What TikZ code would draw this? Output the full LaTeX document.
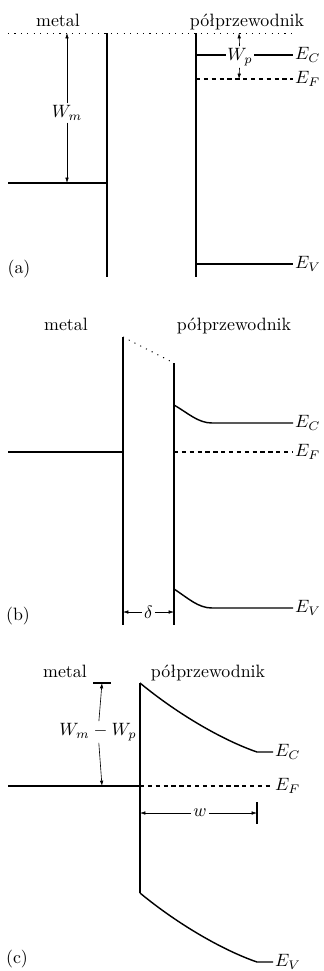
\documentclass[tikz,border=0pt]{standalone}
\usetikzlibrary{arrows.meta}
\begin{document}
\begin{tikzpicture}[x=0.56pt,y=-0.56pt,
  band/.style={line width=0.8pt},
  vac/.style={line width=0.55pt, dash pattern=on 0.6pt off 3pt},
  fermi/.style={line width=0.7pt, dash pattern=on 2.4pt off 2pt},
  dim/.style={line width=0.35pt, -{Latex[length=3pt,width=2pt]}},
  lbl/.style={inner sep=1pt, anchor=west},
  cut/.style={fill=white, inner sep=1pt},
  ttl/.style={anchor=base, inner sep=0pt}]
\useasboundingbox (0,0) rectangle (324,971);
% ---------------- (a)
\node[ttl] (aMet) at (58,26) {metal};
\node[ttl] (aSem) at (247,26) {półprzewodnik};
\coordinate (aVL) at (8,33); \coordinate (aVR) at (297,33);
\draw[vac] (aVL) -- (aVR);
\coordinate (aMT) at (107,33); \coordinate (aMB) at (107,277);
\draw[band] (aMT) -- (aMB);
\coordinate (aFL) at (8,183); \coordinate (aFR) at (107,183);
\draw[band] (aFL) -- (aFR);
\coordinate (aST) at (196,33); \coordinate (aSB) at (196,277);
\draw[band] (aST) -- (aSB);
\coordinate (aC0) at (196,55); \coordinate (aC1) at (293,55);
\draw[band] (aC0) -- (aC1);
\node[lbl] (aEC) at (aC1) {$E_C$};
\coordinate (aF0) at (196,79); \coordinate (aF1) at (293,79);
\draw[fermi] (aF0) -- (aF1);
\node[lbl] (aEF) at (aF1) {$E_F$};
\coordinate (aV0) at (196,264); \coordinate (aV1) at (293,264);
\draw[band] (aV0) -- (aV1);
\node[lbl] (aEV) at (aV1) {$E_V$};
\coordinate (wmT) at (67,33); \coordinate (wmB) at (67,183);
\node[cut] (wm) at (67,113) {$W_m$};
\draw[dim] (wm) -- (wmT);
\draw[dim] (wm) -- (wmB);
\coordinate (wpT) at (239,33); \coordinate (wpB) at (239,79);
\node[cut] (wp) at (240,57) {$W_p$};
\draw[dim] (wp) -- (wpT);
\draw[dim] (wp) -- (wpB);
\node[ttl] (aLab) at (19,273) {(a)};
% ---------------- (b)
\node[ttl] (bMet) at (66,330) {metal};
\node[ttl] (bSem) at (234,330) {półprzewodnik};
\coordinate (bMT) at (123,337); \coordinate (bMB) at (123,625);
\draw[band] (bMT) -- (bMB);
\coordinate (bST) at (174,363); \coordinate (bSB) at (174,625);
\draw[band] (bST) -- (bSB);
\draw[vac] (bMT) -- (bST);
\coordinate (bFL) at (8,452); \coordinate (bFR) at (123,452);
\draw[band] (bFL) -- (bFR);
\coordinate (bC0) at (174,405); \coordinate (bC1) at (212,423); \coordinate (bC2) at (293,423);
\draw[band] (bC0) .. controls (188,413) and (198,423) .. (bC1) -- (bC2);
\node[lbl] (bEC) at (bC2) {$E_C$};
\coordinate (bF0) at (174,452); \coordinate (bF1) at (293,452);
\draw[fermi] (bF0) -- (bF1);
\node[lbl] (bEF) at (bF1) {$E_F$};
\coordinate (bV0) at (174,589); \coordinate (bV1) at (212,608); \coordinate (bV2) at (293,608);
\draw[band] (bV0) .. controls (188,598) and (198,608) .. (bV1) -- (bV2);
\node[lbl] (bEV) at (bV2) {$E_V$};
\coordinate (dL) at (123,612); \coordinate (dR) at (174,612);
\node[cut] (dl) at (148.5,612) {$\delta$};
\draw[dim] (dl) -- (dL);
\draw[dim] (dl) -- (dR);
\node[ttl] (bLab) at (18,620) {(b)};
% ---------------- (c)
\node[ttl] (cMet) at (65,677) {metal};
\node[ttl] (cSem) at (208,677) {półprzewodnik};
\coordinate (cBL) at (93,683); \coordinate (cBR) at (111,683);
\draw[band] (cBL) -- (cBR);
\coordinate (cWT) at (102,683); \coordinate (cWB) at (102,786);
\node[cut] (cw) at (98,732) {$W_m - W_p$};
\draw[dim] (cw) -- (cWT);
\draw[dim] (cw) -- (cWB);
\coordinate (cST) at (140,683); \coordinate (cSB) at (140,893);
\draw[band] (cST) -- (cSB);
\coordinate (cC1) at (257,752); \coordinate (cC2) at (273,752);
\draw[band] (cST) .. controls (180,716) and (225,741) .. (cC1) -- (cC2);
\node[lbl] (cEC) at (cC2) {$E_C$};
\coordinate (cFL) at (8,786); \coordinate (cFM) at (140,786); \coordinate (cFR) at (273,786);
\draw[band] (cFL) -- (cFM);
\draw[fermi] (cFM) -- (cFR);
\node[lbl] (cEF) at (cFR) {$E_F$};
\coordinate (cV1) at (257,962); \coordinate (cV2) at (273,962);
\draw[band] (cSB) .. controls (180,926) and (225,951) .. (cV1) -- (cV2);
\node[lbl] (cEV) at (cV2) {$E_V$};
\coordinate (xL) at (140,813); \coordinate (xR) at (257,813);
\coordinate (tT) at (257,802); \coordinate (tB) at (257,824);
\draw[line width=0.6pt] (tT) -- (tB);
\node[cut] (xw) at (200,813) {$w$};
\draw[dim] (xw) -- (xL);
\draw[dim] (xw) -- (xR);
\node[ttl] (cLab) at (17,963) {(c)};
\end{tikzpicture}
\end{document}
